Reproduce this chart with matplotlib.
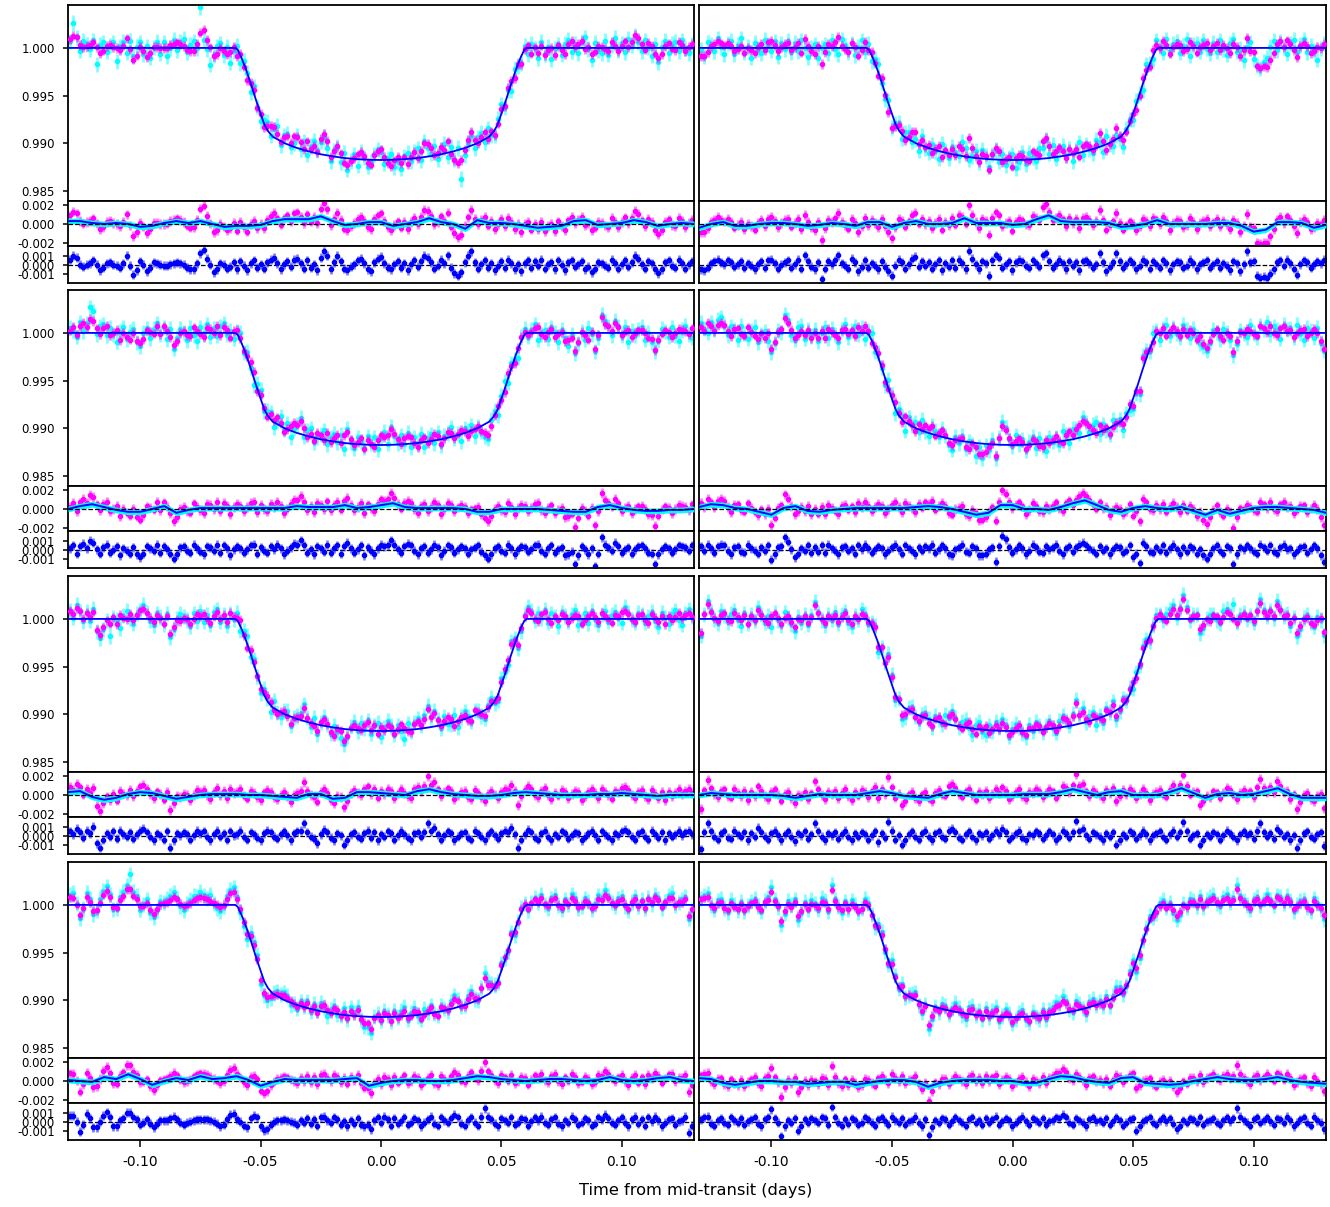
import numpy as np
import matplotlib
matplotlib.use('Agg')
from matplotlib import pyplot as plt
from matplotlib.colors import to_rgba

# time grid of the 2-min cadence points (days from mid-transit)
T0 = -0.1292
DT = 0.0013889

# transit model
model_t = [-0.13, -0.0605, -0.0595, -0.058, -0.056, -0.054, -0.052, -0.050, -0.0485, -0.047,
           -0.045, -0.040, -0.035, -0.030, -0.025, -0.020, -0.015, -0.010, -0.005, 0.0,
           0.005, 0.010, 0.015, 0.020, 0.025, 0.030, 0.035, 0.040, 0.045,
           0.047, 0.0485, 0.050, 0.052, 0.054, 0.056, 0.058, 0.0595, 0.0605, 0.13]
model_f = [1.0, 1.0, 0.9998, 0.9990, 0.9977, 0.9962, 0.9946, 0.9931, 0.9920, 0.9913,
           0.9907, 0.9900, 0.98952, 0.98915, 0.98885, 0.98863, 0.98845, 0.98834, 0.98827, 0.98825,
           0.98827, 0.98834, 0.98845, 0.98863, 0.98885, 0.98915, 0.98952, 0.9900, 0.9907,
           0.9913, 0.9920, 0.9931, 0.9946, 0.9962, 0.9977, 0.9990, 0.9998, 1.0, 1.0]

# GP mean at knots every 0.005 d from -0.13 to 0.13 (units of 1e-4)
gp1 = [3, 3, 1, 0, 1, 0, -3, -2, 1, 3, 1, 3, 0, -3, -2, -2, -1, 3, 5, 5,
       5, 8, 3, -1, 0, 2, 2, -2, 0, 2, 6, 2, 0, -5, 4, 1, 1, 0, -2, -4,
       -3, -2, 3, 4, -1, 0, 1, 4, 2, -2, 0, 1, 0]
gp2 = [-4, 0, 2, -2, -2, 0, 1, 1, 0, -2, -1, 1, 0, -2, 2, 2, -3, 1, 3, 0,
       0, 1, 6, 1, 1, 1, -1, 0, 5, 9, 3, 2, 2, 2, 1, -3, -2, 0, 4, 0,
       0, 0, 0, 1, 1, -2, -8, -6, 2, 2, 1, -4, -1]
gp3 = [0, 3, 5, 2, -1, -3, -3, 0, 3, -4, -1, 1, 1, 1, 1, 1, 1, 1, 1, 3,
       2, 2, 2, 4, 1, 2, 4, 6, 2, 1, 1, 1, 1, 0, -3, -3, 0, 0, 0, 0,
       -1, -2, -3, -3, 2, 4, 1, -1, -2, -2, -1, -1, 0]
gp4 = [2, 5, 4, 1, 0, -3, -6, 1, 3, -2, -3, -1, 0, 1, 1, 1, 1, 1, 2, 3,
       2, 0, -3, -6, -4, 4, 4, 0, 0, -1, 2, 6, 9, 4, -1, -3, 1, 3, 1, 0,
       2, -2, -6, -1, -5, -2, 1, 2, 2, 1, 0, -1, -4]
gp5 = [3, 4, -2, -5, -3, 1, 3, 2, -1, -4, -2, 0, 1, 1, 1, 0, 0, -1, -2, -3,
       1, 1, -4, -3, 3, 3, 2, 1, 0, 4, 6, 3, 1, 0, -1, -1, 0, 2, 3, 2,
       1, 0, 0, 0, 1, 1, 2, 1, 0, -1, 0, 0, 0]
gp6 = [0, 2, 1, 0, 0, 0, 0, -1, -3, -1, 1, 0, 0, 0, 2, 4, 2, -1, -2, -3,
       1, 4, 2, 0, 0, 0, 0, 1, 1, 1, 3, 6, 3, 0, 3, 4, 0, 0, 0, 3,
       7, 2, -3, 1, 2, 0, 1, 4, 7, 1, -3, -3, -3]
gp7 = [1, 0, -1, 4, 2, 7, 2, -4, 0, 3, 1, 5, 2, 3, 5, 1, -5, -1, 2, 1,
       1, 1, 1, 2, 3, -5, -2, 0, 1, 1, 0, 0, 1, 3, 5, 4, 2, 1, 0, 1,
       2, 2, 1, 0, 1, 4, 1, 0, 1, 3, 4, 1, 0]
gp8 = [3, 2, -2, -4, -2, 0, 0, -1, -1, -3, -2, -1, -1, -4, -2, 0, 1, 1, -1, -6,
       -2, 0, 1, 1, 1, 0, 0, -2, -2, 2, 5, 4, 1, -1, -2, 3, 4, -2, -3, -4,
       -3, 0, 2, 4, 2, 1, 1, 2, 4, 1, -1, -2, -3]

# residuals after the GP (blue points, units of 1e-4)
b1 = [6, 10, 8, 0, -2, 0, 2, 5, 0, -6, -3, 2, 3, 0, -1, -3, 2,
      10, -1, -11, -6, 4, 0, -7, -3, 3, 2, 0, -1, -1, 1, 2, 3, 2,
      0, -3, -5, -5, 2, 13, 17, 7, 0, -8, -5, 2, 0, -4, -2, 3, -5,
      4, -1, -6, 2, 5, -3, 1, -4, 3, 6, 8, 2, -5, 1, 4, -2, 6,
      7, 2, -4, 5, -3, 1, -6, 8, 15, 10, -5, 3, 10, 4, -4, -6, -2,
      1, 5, 7, 2, -5, -7, 3, 7, 9, 2, -3, -5, 1, 4, -3, 2, -6,
      1, 5, -2, 4, 10, 8, 3, -4, -1, 6, 2, 11, -3, -9, -12, -8, 3,
      10, 15, 3, -4, 1, 5, -3, 2, -6, -1, 4, -3, 6, 2, -5, 1, -7,
      2, 5, -3, 4, -1, 6, -4, 1, 3, -5, 5, 0, -6, 3, 5, -2, 1,
      4, -5, -2, -8, -4, 3, 2, -1, -3, 6, 2, -4, 1, 5, -2, 3, 10,
      7, 1, -4, 4, 2, -5, -9, -5, 3, 5, -1, -3, 6, 2, -4, 1, 4]
b2 = [-5, -6, -3, 2, 4, 6, 3, 1, 5, 3, -2, 1, 4, -3, 2, -1, -5,
      1, 4, -3, 5, 6, 2, -4, 0, 3, 5, -3, 1, 6, -4, 11, 4, -2,
      -5, 3, -16, -4, 4, 1, 5, 11, 2, -1, -4, 7, 3, -7, -2, 5, -3,
      2, -1, -5, 4, -2, -7, -12, -1, 6, 3, -4, 1, 7, 9, -2, 4, -1,
      3, -4, 1, 5, -6, 2, -2, 5, -3, 6, 2, -5, 16, 7, 1, -5, 4,
      2, -12, 5, 11, 8, -3, 1, 4, -6, 3, 6, 4, -1, -3, 5, 2, -2,
      11, 13, 4, -3, 1, 6, 2, -5, 4, -1, 3, -6, 4, 5, 2, -3, 1,
      13, 3, -7, -2, 3, 13, 4, -3, 1, 5, 2, -5, -1, 6, 3, -4, 4,
      1, -3, 5, 2, -6, 1, 4, 3, -3, -1, 6, 2, -5, 1, 3, 5, -3,
      1, 4, -3, 2, -1, -6, 4, 2, -7, 1, 15, 3, 4, -12, -14, -13, -15,
      -10, -5, 3, 5, -1, 6, 2, -4, -11, 1, 5, 3, -3, 1, 4, 2, 6]
b3 = [2, 5, -4, 4, 7, 2, 10, 8, 1, -4, 3, 6, -3, 0, 4, -6, 2,
      -1, -4, 3, -5, -8, -4, 4, 2, -1, 6, -3, 4, 1, -4, -10, -5, 3,
      4, -1, -3, 6, 2, -2, -5, 4, 3, -1, 6, -3, 5, 2, -6, 1, 4,
      2, -3, 1, 5, 6, -4, 3, -1, -3, 4, 1, 6, 2, -5, -1, 3, 7,
      6, 11, 5, -3, 1, -5, 4, 2, -2, 6, -3, 2, 5, -4, 4, 8, 2,
      -3, 1, 5, -6, 3, -1, -5, 2, 6, 4, 5, 11, 6, 1, -3, 4, 7,
      5, -1, -5, 2, 4, -3, 1, 6, 3, -6, -1, 5, 3, -3, 1, 4, 2,
      -4, 1, 3, 5, -2, -6, -10, -5, 2, 4, -1, -3, 6, 2, -5, 1, 4,
      3, -2, 1, 5, 6, -1, -4, 2, 5, -3, 1, 3, -6, -5, -2, -16, -6,
      4, 1, -5, 2, -18, -4, 14, 6, 3, -1, 8, 4, -3, 1, 3, -4, 1,
      4, 5, 2, -3, -4, -16, -5, 1, 4, 2, -3, 1, 5, 4, 3, -1, 5]
b4 = [4, -1, 6, 2, -3, 4, 6, 5, -1, -5, 3, 4, -2, -3, 6, 2, -1,
      -4, 3, -1, 5, -11, -5, 3, 4, 14, 9, 1, -8, -4, 2, -1, 5, -3,
      3, -2, 5, -3, 6, 2, -1, -5, 3, 4, -1, 2, -4, 5, 1, 6, 2,
      -3, 1, 4, 2, -5, -1, 3, 6, 1, -4, 5, 2, -1, -5, 3, -1, 4,
      2, 6, -3, 1, 5, 2, -5, -6, 1, 3, 6, -2, -3, 4, 2, -6, -6,
      -4, 1, 3, -13, 4, 16, 12, 3, -3, 1, 5, 2, -5, -1, 6, 3, -2,
      -3, 4, 1, 3, 6, -1, -5, 2, 4, -2, 3, 6, 8, 5, 2, -1, -4,
      4, -1, 2, -5, 1, 4, 3, -3, -1, 5, -8, -4, -15, 8, 4, -2, -3,
      3, -1, 5, -3, 2, 6, 1, -5, 3, -2, 4, 2, -4, 1, -6, -10, -4,
      2, 5, -1, -4, 4, 2, -16, -5, 3, 1, 5, 2, -2, -4, 6, 3, -1,
      5, -2, -4, 3, 6, 1, 2, -5, -1, 3, 4, -3, 1, 5, 2, -6, -13]
b5 = [5, 2, 8, 4, -2, 6, 3, 10, -8, -13, -4, 3, -1, 5, -3, 6, 2,
      -1, 4, -3, 2, 6, 8, 4, -1, -5, 3, 1, -4, 5, -13, -5, 3, 1,
      4, 2, -4, 1, 6, 3, 5, -1, -5, 2, 6, -1, 3, -4, 5, 1, 2,
      6, -1, -4, 4, 2, -2, -5, 3, 6, 4, -1, -3, 2, 5, 1, -5, 3,
      5, 6, 14, 4, -1, -3, -8, 2, 7, 4, -2, -5, 3, 1, -10, -5, 2,
      4, -1, -3, 3, 6, -2, 4, -5, 2, -1, 5, 3, -4, 1, 6, 2, -2,
      -5, 3, 4, -1, 4, 14, 5, 9, 2, -4, 1, 5, 3, -5, -1, 3, 4,
      -2, -4, 6, 3, -1, -5, 2, 5, 1, -3, 3, 6, 4, 9, 2, -13, -4,
      2, 7, 4, -2, -4, 3, 6, -1, -5, 2, -1, 5, 3, -3, 1, 4, 3,
      -5, -1, 3, 6, 1, -4, 5, 2, -1, -5, 3, 1, 5, 7, 4, -1, -4,
      3, 5, -1, -4, 6, 2, -2, 4, -5, 3, -1, 2, 6, 1, 4, 6, 2]
b6 = [-15, 4, 14, 5, -1, -4, 3, 5, -2, -3, 6, 2, -1, 4, -5, 3, -1,
      9, 4, -1, -4, 3, 6, 1, -5, 2, 5, -1, -6, 3, 1, 5, -3, 2,
      14, 5, -1, -5, 3, 1, 4, -3, 2, 6, -1, -5, 3, -1, 4, 2, -4,
      1, 5, -7, 3, -2, 16, 6, -4, 1, -10, -5, 2, 5, -1, -4, 3, 6,
      -1, -5, 3, 5, -1, -3, 6, 8, 4, -2, -4, 2, 5, -1, -5, 3, 1,
      4, -3, 1, 6, 2, 8, 4, -4, -1, 3, 6, -2, -5, 2, 1, 5, 3,
      -3, 1, 5, 2, -5, -1, 6, 3, -2, 4, 17, 5, 8, 1, -3, 4, 2,
      -1, -5, 3, -1, 4, -10, -5, 2, -1, 5, 3, -3, 1, 6, 2, -5, 1,
      3, 5, -1, -4, 2, 6, -1, 4, 15, 5, -3, 1, 3, -10, -4, 2, -1,
      4, 2, -4, 1, 6, 3, -1, -5, 2, 5, 1, 3, -3, 6, 14, 4, -1,
      3, -3, 8, 4, -1, 2, -5, 1, -13, -5, 3, 5, -1, -3, 2, 4, -11]
b7 = [7, 7, 0, -11, -3, 9, 4, -6, -6, 0, 7, 11, 5, -5, -5, 2, 4,
      10, 10, 5, 3, -3, -1, 3, -2, -6, -2, 2, 2, 2, 4, 6, 3, -1,
      -3, -1, 0, 2, 3, 3, 3, 3, 2, 0, -2, -5, -3, 3, 8, 9, 3,
      0, -4, -6, 4, 7, 5, -5, -9, -8, -3, 0, 2, 2, 3, 2, 0, -1,
      -3, 2, -1, 4, -2, 3, -4, 5, 6, 2, -1, 5, 3, -3, 1, -5, 2,
      -2, 4, -3, -5, -3, -8, 2, 5, -1, 6, 3, -4, 4, -2, 1, 5, -3,
      -1, 4, 2, -5, -1, 3, 6, -2, -4, 5, 2, -1, 4, 8, 5, -2, -4,
      2, 5, -1, -4, 6, 15, 6, 3, -2, -5, 4, 2, -1, 5, -3, -1, 4,
      3, -4, 1, 5, 2, 6, -1, -3, 3, 5, -2, -5, 2, -1, 6, 3, -3,
      -1, 4, 2, -4, -2, 5, 3, 8, 4, -1, -3, 2, 5, -1, -5, 3, 6,
      -2, 3, -4, 5, 1, 6, 2, -5, -1, 3, 4, -3, 1, 2, 6, -12, -4]
b8 = [3, 5, 6, -2, -4, 2, 4, -1, -3, 5, 2, -1, 4, -3, 1, 3, 5,
      -2, -5, 3, 5, 14, 4, -1, -16, -5, 2, -1, 4, -10, -4, 3, -1, 4,
      2, -1, 5, 4, -3, 17, 5, -1, -4, 3, -2, 4, 2, -3, -1, 5, 3,
      -1, -4, 3, 5, 1, -3, 6, 2, -1, 4, -3, 1, 2, 6, -1, -5, 3,
      -15, -6, 2, -1, 4, 3, -3, 1, 5, 2, -1, -4, 3, 5, -1, 2, -3,
      4, -1, 3, 6, -3, 1, 4, 2, -5, -1, 3, 6, 1, -3, 4, 2, -1,
      4, -3, 1, 2, 5, 4, 8, 5, -1, -3, 4, 2, -1, -5, 3, 5, 1,
      2, -1, 4, -3, 1, 5, 2, -4, -1, 3, 4, -10, -5, 1, 3, 5, -1,
      -3, 2, 5, 1, 4, -2, -8, -4, 2, -1, 4, 3, -1, 5, -3, 1, 2,
      4, -1, -3, 2, 5, 1, 4, 15, 6, 2, -1, -4, 3, 5, -1, 2, 5,
      1, -3, 4, 3, -1, 6, 2, -5, -1, 3, 5, -1, -4, 6, 2, -1, -8]

# second light curve (cyan), offset from model + GP (units of 1e-4)
c1 = [4, 23, 8, -6, 5, 2, -3, 7, -18, 3, 6, -4, 2, 5, -15, 1, 6,
      -5, 8, -7, 3, 9, -4, 4, -8, 2, 7, -6, 5, -10, -2, 6, -5, 4,
      8, -6, 2, 5, -3, 40, 6, -3, -18, -7, 3, 7, -5, 4, -13, -1, 6,
      -6, 5, 2, -8, 9, -2, -7, 3, 7, -4, 5, 10, -9, 3, 6, -6, -1,
      8, -5, 4, -9, 1, 6, -4, 5, 12, 3, -9, 4, 9, -5, 6, -11, -2,
      5, -7, 7, 1, -9, -4, 4, 9, 6, -5, 2, 7, -6, -1, -9, 3, 6,
      -4, 5, 8, -6, 12, 3, -3, 6, -8, 2, 9, -5, 5, -8, 4, -28, -3,
      7, 11, -6, 2, 6, -5, 8, -2, -7, 4, 9, -4, 3, -8, 5, -1, -6,
      6, -4, 7, 3, -7, 10, -3, 4, -9, 2, 6, -5, 5, 8, -6, 1, -9,
      3, 7, -4, -14, 5, -2, -5, 8, -7, 2, 10, -3, 4, -6, 7, -1, 9,
      3, -6, 6, -1, -8, 5, -13, 2, 8, -5, 4, 6, -4, 7, -1, -6, 3]
c2 = [2, -7, 7, 3, -4, 9, -1, -8, 4, 8, -5, 5, 12, -3, 3, -9, 6,
      -1, -6, 8, 3, -4, 6, -10, 4, -2, 7, -5, 5, -3, 9, 1, -8, 2,
      5, -9, 1, 4, -6, 7, -2, -7, 9, 3, -4, 6, -6, 2, 8, -5, 4,
      -8, 3, 7, -1, -6, 5, -12, 2, 8, -5, 4, 6, -3, 1, -9, 9, -2,
      -5, 5, -1, -8, 8, 2, -6, 7, 1, -4, 10, 4, -7, -1, 6, -5, 8,
      2, -9, 4, 9, -3, 5, -6, 3, 7, -8, -2, 8, -5, 5, -1, -7, 6,
      4, 11, -4, 6, -7, 3, 8, -3, 4, -9, 2, 9, -5, 5, -1, -6, 7,
      3, -8, 8, -2, -5, 6, 1, -10, 4, 7, -4, 5, 1, -7, 9, -1, -6,
      6, -2, -7, 8, -3, 4, 7, -5, 2, 9, -8, 3, 5, -4, 8, -1, -6,
      5, -5, 7, -2, -8, 4, 9, -3, 1, -10, 6, 12, -4, -11, -15, -8, -5,
      4, 8, -4, 5, -1, -8, 3, 7, -6, 2, 9, -3, 5, 1, -9, 2, 6]
c3 = [5, 1, -6, 8, -2, 6, 22, 18, -5, 4, 7, -4, 5, -1, -8, 3, 8,
      -4, 4, 7, -7, -11, 2, 6, -5, 4, 9, -3, 3, -8, 5, -14, -1, 7,
      3, -6, 6, -2, -9, 5, -1, 8, -5, 4, -4, 6, 9, -3, 1, -7, 2,
      7, -5, 5, -1, -8, 4, 8, -4, 3, 6, -6, 2, 9, -3, 5, -9, 1,
      6, 14, -4, 4, 7, -7, -1, 3, 8, -6, 2, 6, -3, 5, -10, 12, -1,
      -6, 6, 2, -5, 7, -1, 5, -8, 3, 9, -4, 13, 4, -3, 6, -2, 10,
      -5, 5, -1, 8, -6, 3, 6, -4, 7, -7, 2, 4, 9, -3, 1, -8, 5,
      2, 7, -5, 4, -3, -10, -14, 2, 6, -6, 3, 8, -4, 5, -1, -9, 4,
      6, -4, 3, 9, -7, -1, 4, -5, 7, 2, -8, 5, -3, -11, 1, -18, -8,
      4, -4, 7, -1, -20, -7, 16, 9, 3, -6, 10, 5, -4, 6, -9, 3, -1,
      5, 8, -5, 2, -8, -17, -6, 6, 3, -3, 7, -2, -7, 4, 8, -1, -5]
c4 = [8, 1, -4, 6, -1, 9, 12, 4, -5, 5, 2, -8, 7, -1, -6, 3, 8,
      -7, 2, 6, -3, -14, -6, 5, 1, 18, 12, -4, -10, 4, 7, -5, 5, -1,
      6, -6, 3, 8, -4, 5, -1, -9, 4, 9, -5, 2, 6, -3, 5, -7, 3,
      7, -4, 4, -1, -8, 8, 3, -6, 5, 2, -10, 6, -1, 4, -5, 9, -2,
      -6, 6, 2, -3, 7, 1, -7, -11, 4, -1, 8, -4, 5, 3, -8, 2, -10,
      3, -3, 6, -15, 4, 20, 14, 2, -5, 7, -1, 5, -6, 3, 8, -4, 6,
      -2, -7, 7, 1, 4, -5, 8, 2, -8, 5, 3, -3, 12, 6, -4, 4, 7,
      -5, 5, -1, -6, 8, 2, 6, -9, 3, -1, -11, -6, -18, 10, 5, -4, 7,
      3, -8, 4, 8, -3, 5, -2, -6, 7, 3, -4, 6, -1, -7, -9, -13, -6,
      6, 2, -5, 7, 4, -3, -19, -8, 5, 1, -4, 8, -1, -6, 6, 2, 9,
      -3, 5, 1, -8, 7, 2, 4, -5, 8, -1, -7, 6, 3, -4, 7, -8, -15]
c5 = [6, -2, 11, 4, -5, 7, -1, 13, -10, -16, -6, 3, -14, 5, 2, -8, 4,
      8, -1, -7, 3, 6, 12, 4, -4, -8, 5, 2, -5, 7, -17, -7, 4, 9,
      5, 1, -6, 7, -2, 8, -3, 4, -7, 6, 9, -4, 3, -8, 5, -1, 7,
      -5, 4, 8, -3, 5, -2, -9, 6, 3, -6, 9, -1, -4, 5, 7, -7, 3,
      6, 9, 18, 4, -5, 5, -11, 2, 10, 4, -4, 6, -1, -7, -13, -6, 3,
      7, -4, 5, -1, 8, -6, 3, 6, -8, 2, 9, 4, -5, 5, -1, -9, 6,
      -4, 4, 7, -1, 8, 17, 5, 12, 3, -6, 6, -2, -3, 7, -7, 3, 8,
      2, -5, 6, 4, -3, -8, 5, 9, -2, -6, 7, 3, -1, 12, 4, -16, -7,
      3, 10, 6, -4, 4, -1, 8, -5, 5, 2, -8, 7, 3, -3, 5, 9, -6,
      -2, 6, -5, 8, -1, -7, 4, 7, -4, 3, 6, -1, -6, 11, 5, -2, -5,
      6, 4, -4, 3, 8, -1, -7, 7, 2, -5, 5, 9, -1, -6, 6, 10, 3]
c6 = [-18, 4, 17, 6, -2, -6, 7, 3, -4, 5, 9, -1, -7, 6, -5, 4, -2,
      12, 5, -4, 3, -8, 7, -1, -6, 8, 3, -3, -10, 5, -2, 6, -5, 4,
      18, 6, -2, -7, 4, -1, 7, -5, 5, 8, -4, -8, 3, -1, 9, 4, -6,
      2, 6, -12, 3, -1, 19, 8, -7, 2, -14, -8, 4, 7, -1, -5, 5, 8,
      3, -6, 6, 2, -3, 7, 4, 11, 5, -4, 3, 6, -1, -7, 4, 8, -2,
      -5, 5, -1, 9, 4, 12, 6, -6, 2, 7, 3, -3, -8, 5, -2, 8, 4,
      -4, 3, 7, -1, -7, 4, 8, 2, -5, 6, 21, 5, 12, -3, 3, 7, -6,
      2, -8, 5, -1, 8, -13, -7, 4, -2, 6, -4, 3, -1, 9, 5, -6, 2,
      6, 4, -3, 3, 7, 10, -4, 5, 19, 8, -5, 2, 4, -14, -7, 3, 6,
      5, -2, -6, 7, 9, 3, 14, -4, 4, 6, -1, 3, -5, 8, 18, 6, -2,
      4, -5, 12, 5, -1, 3, -8, 2, -17, -8, 4, 7, -1, -5, 5, 2, -14]
c7 = [10, 12, 1, -14, -4, 13, 7, -9, -7, 4, 11, 16, 8, -7, -6, 5, 9,
      14, 26, 9, 6, -7, 0, 7, -5, -9, -3, 5, 3, 6, 8, 11, 4, -4,
      -7, 0, 4, 7, 5, 9, 6, 3, 8, -1, -6, -9, -4, 6, 12, 14, 5,
      -3, -8, -11, 7, 10, 9, -9, -12, -11, -6, 2, 5, 3, 6, 4, -4, -1,
      -5, 4, 0, 6, -4, 5, -1, 8, 4, -5, 3, 7, -2, -3, 5, -6, 6,
      1, 7, -4, -9, -7, -12, 4, 6, -2, 8, 3, -4, 6, -1, 5, 9, -5,
      2, 7, -2, -6, 5, 1, 8, -1, -4, 6, 2, -2, 7, 12, 6, -3, -3,
      5, 8, -2, -5, 6, 20, 9, 4, -1, -4, 6, 1, -2, 7, -6, -1, 5,
      3, -6, 2, 7, 2, 9, -1, -5, 5, 8, -2, -7, 4, -1, 10, 6, -4,
      -2, 7, 3, -5, 0, 9, 5, 13, 6, -1, -4, 5, 8, -2, -6, 3, 9,
      -2, 5, -5, 6, -1, 8, 4, -7, 0, 6, 9, -3, 1, 5, 8, -15, -6]
c8 = [4, 7, 10, -2, -6, 5, 8, -1, -5, 9, 4, -2, 6, -4, 1, 5, 7,
      -1, -7, 4, 8, 19, 6, -2, -20, -8, 5, 1, 7, -14, -6, 6, -2, 8,
      4, -3, 9, 6, -5, 22, 7, -1, -7, 5, -2, 8, 4, -4, -1, 9, 5,
      -1, -6, 6, 8, -2, -5, 10, 4, -3, 7, -4, 1, 5, 9, -2, -7, 4,
      -19, -9, 4, -2, 7, 5, -4, 3, 9, 4, -3, -7, 6, 8, -1, 4, -5,
      7, -2, 5, 10, -5, 1, 8, 3, -7, -2, 6, 9, -1, -4, 7, 2, -2,
      6, -5, 3, 5, 9, 6, 13, 7, -2, -5, 7, 4, -1, -7, 5, 8, 1,
      4, -2, 7, -5, 3, 9, 5, -6, -2, 6, 7, -14, -8, 1, 5, 8, -2,
      -4, 5, 9, 1, 6, -5, -12, -7, 4, -1, 7, 5, -2, 8, -4, 3, 6,
      7, -2, -5, 5, 9, 1, 6, 20, 8, 4, -1, -6, 5, 7, -2, 4, 9,
      3, -4, 6, 5, -1, 8, 4, -7, 0, 5, 7, -1, -5, 9, 4, -2, -12]

gps = [gp1, gp2, gp3, gp4, gp5, gp6, gp7, gp8]
blues = [b1, b2, b3, b4, b5, b6, b7, b8]
cyans = [c1, c2, c3, c4, c5, c6, c7, c8]

W, H = 1330, 1207
fig = plt.figure(figsize=(W / 100, H / 100), dpi=100)

col_x = [68, 699]
col_w = [626, 627]
block_top = [5, 290, 576, 862]
row_h = [196, 45, 37]

MAG = '#ff00ff'
CYA = '#00ffff'
BLU = '#0000ff'
ERR = 0.0005


def add_ax(x, y, w, h):
    return fig.add_axes([x / W, 1 - (y + h) / H, w / W, h / H])


def points(ax, t, y, err, color, z):
    ax.errorbar(t, y, yerr=err, fmt='o', ms=3.0, mfc=color, mec=color,
                ecolor=to_rgba(color, 0.5), elinewidth=2.0, capsize=0, zorder=z)


for k in range(4):
    for j in range(2):
        p = 2 * k + j
        gpk = np.array(gps[p], float) * 1e-4
        gp_t = np.linspace(-0.13, 0.13, len(gpk))
        b = np.array(blues[p], float) * 1e-4
        c = np.array(cyans[p], float) * 1e-4
        t = T0 + DT * np.arange(len(b))
        tc = T0 + DT * np.arange(len(c))
        gp_b = np.interp(t, gp_t, gpk)
        gp_c = np.interp(tc, gp_t, gpk)
        mag_res = gp_b + b

        y0 = block_top[k]
        a0 = add_ax(col_x[j], y0, col_w[j], row_h[0])
        a1 = add_ax(col_x[j], y0 + row_h[0], col_w[j], row_h[1])
        a2 = add_ax(col_x[j], y0 + row_h[0] + row_h[1], col_w[j], row_h[2])

        # light curve + transit model
        points(a0, tc, np.interp(tc, model_t, model_f) + gp_c + c, 0.0008, CYA, 2)
        points(a0, t, np.interp(t, model_t, model_f) + mag_res, ERR, MAG, 3)
        a0.plot(model_t, model_f, color=BLU, lw=1.3, zorder=5)
        a0.set_ylim(0.98395, 1.0045)
        a0.set_yticks([0.985, 0.990, 0.995, 1.000])

        # residuals with GP
        points(a1, t, mag_res, ERR, MAG, 2)
        a1.fill_between(gp_t, gpk - 3e-4, gpk + 3e-4, color=CYA, lw=0, zorder=3)
        a1.plot(gp_t, gpk, color=BLU, lw=1.4, zorder=4)
        a1.axhline(0, color='k', ls='--', lw=0.9, zorder=5)
        a1.set_ylim(-0.0023, 0.0024)
        a1.set_yticks([-0.002, 0.0, 0.002])

        # final residuals
        points(a2, t, b, ERR, BLU, 2)
        a2.axhline(0, color='k', ls='--', lw=0.9, zorder=1)
        a2.set_ylim(-0.002, 0.0021)
        a2.set_yticks([-0.001, 0.0, 0.001])

        for ax in (a0, a1, a2):
            ax.set_xlim(-0.13, 0.13)
            for s in ax.spines.values():
                s.set_linewidth(1.3)
            ax.tick_params(axis='y', labelsize=8.5, length=3.5, width=1.1, pad=6)
            ax.tick_params(axis='x', bottom=False, labelbottom=False)
            ax.yaxis.set_major_formatter(matplotlib.ticker.FormatStrFormatter('%.3f'))
            if j == 1:
                ax.tick_params(axis='y', left=False, labelleft=False)
        if k == 3:
            a2.set_xticks([-0.10, -0.05, 0.0, 0.05, 0.10])
            a2.xaxis.set_major_formatter(matplotlib.ticker.FormatStrFormatter('%.2f'))
            a2.tick_params(axis='x', bottom=True, labelbottom=True, labelsize=10,
                           length=5, width=1.1, pad=6)

fig.text(696 / W, 1 - 1190 / H, 'Time from mid-transit (days)', ha='center', va='center',
         fontsize=11.7)

fig.savefig('out.png', dpi=100)
